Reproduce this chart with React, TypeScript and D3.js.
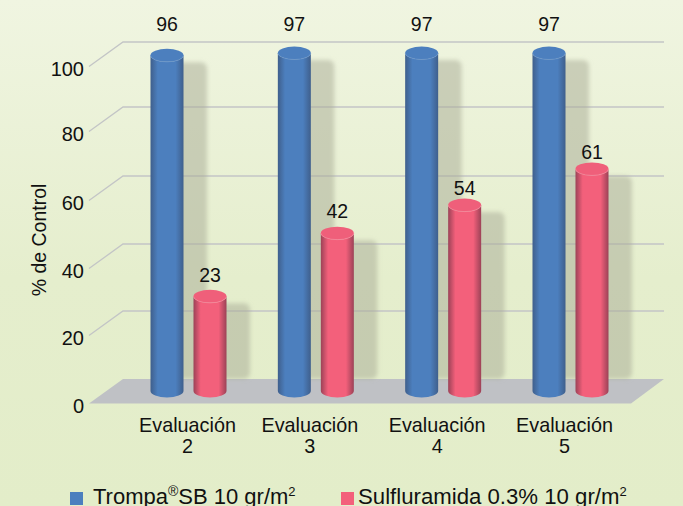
import React from "react";
import * as d3 from "d3";

const categories = ["2", "3", "4", "5"];
const labelWord = "Evaluación";
const yTicks = [0, 20, 40, 60, 80, 100];
// heights read against the axis
const trompaHeights = [99.3, 100, 100, 100];
const sulfHeights = [28, 46.7, 55, 65.7];
// printed labels
const trompaLabels = [96, 97, 97, 97];
const sulfLabels = [23, 42, 54, 61];
const labelNudge = [-1, -6, -6, -6];
const sulfLabelGap = [14, 15, 10, 10];

const W = 683, H = 506;
const font = "'Liberation Sans', Arial, sans-serif";
const yBack = d3.scaleLinear().domain(yTicks).range([379, 311, 244, 176, 107, 42]);
const yFront = (v: number) => yBack(v) + 24.5;
const yBar = d3.scaleLinear().domain([0, 100]).range([391, 53]);
const xGroup = d3.scalePoint<string>().domain(categories).range([188.5, 570.5]);
const dx = 21.5, rx = 16.5, ry = 6.5;

function cyl(cx: number, top: number, base: number) {
  return `M${cx - rx},${top}L${cx - rx},${base}A${rx},${ry} 0 0 0 ${cx + rx},${base}L${cx + rx},${top}A${rx},${ry} 0 0 1 ${cx - rx},${top}Z`;
}

function Bar({ cx, v, grad, topFill, rim }: { cx: number; v: number; grad: string; topFill: string; rim: string }) {
  const top = yBar(v), base = yBar(0);
  return (
    <g>
      <path d={cyl(cx, top, base)} fill={`url(#${grad})`} />
      <ellipse cx={cx} cy={top} rx={rx} ry={ry} fill={topFill} />
      <path d={`M${cx - rx},${top}A${rx},${ry} 0 0 0 ${cx + rx},${top}`} fill="none" stroke={rim} strokeWidth={0.7} />
    </g>
  );
}

function Shadow({ cx, v }: { cx: number; v: number }) {
  const top = yBar(v) + 7;
  return <rect x={cx + 8} y={top} width={32} height={379 - top} rx={6} fill="#a9ad97" fillOpacity={0.52} filter="url(#blur)" />;
}

function Stop3({ id, edge, mid }: { id: string; edge: string; mid: string }) {
  return (
    <linearGradient id={id} x1="0" x2="1" y1="0" y2="0">
      <stop offset="0" stopColor={edge} />
      <stop offset="0.22" stopColor={mid} />
      <stop offset="0.76" stopColor={mid} />
      <stop offset="1" stopColor={edge} />
    </linearGradient>
  );
}

export default function App() {
  const gridTicks = yTicks.filter((t) => t > 0);
  return (
    <svg width={W} height={H} viewBox={`0 0 ${W} ${H}`} style={{ position: "fixed", left: 0, top: 0, fontFamily: font }}>
      <defs>
        <linearGradient id="bg" x1="0" x2="0" y1="0" y2="1">
          <stop offset="0" stopColor="#f0f5e1" />
          <stop offset="0.55" stopColor="#e5eecd" />
          <stop offset="1" stopColor="#e3edc9" />
        </linearGradient>
        <Stop3 id="blue" edge="#3f5f8c" mid="#4c7fbe" />
        <Stop3 id="red" edge="#9c4257" mid="#f3607b" />
        <filter id="blur" x="-30%" y="-10%" width="160%" height="120%">
          <feGaussianBlur stdDeviation="2" />
        </filter>
      </defs>
      <rect width={W} height={H} fill="url(#bg)" />

      {gridTicks.map((t) => (
        <polyline key={t} points={`89,${yFront(t)} 123,${yBack(t)} 664,${yBack(t)}`} fill="none" stroke="#c3c5c6" strokeWidth={1.3} />
      ))}
      <polygon points={`89,${yFront(0)} 123,${yBack(0)} 664,${yBack(0)} 631,${yFront(0)}`} fill="#bfc1c5" />

      {categories.map((c, i) => (
        <g key={c}>
          <Shadow cx={xGroup(c)! - dx} v={trompaHeights[i]} />
          <Shadow cx={xGroup(c)! + dx} v={sulfHeights[i]} />
        </g>
      ))}
      {categories.map((c, i) => (
        <g key={c}>
          <Bar cx={xGroup(c)! - dx} v={trompaHeights[i]} grad="blue" topFill="#4c7fbe" rim="#6c95c9" />
          <Bar cx={xGroup(c)! + dx} v={sulfHeights[i]} grad="red" topFill="#ef5f7a" rim="#f58a9e" />
          <text x={xGroup(c)! - dx} y={31} textAnchor="middle" fontSize={19.5} fill="#111">{trompaLabels[i]}</text>
          <text x={xGroup(c)! + dx} y={yBar(sulfHeights[i]) - sulfLabelGap[i]} textAnchor="middle" fontSize={19.5} fill="#111">{sulfLabels[i]}</text>
          <text x={xGroup(c)! + labelNudge[i]} y={432} textAnchor="middle" fontSize={19.8} fill="#111">{labelWord}</text>
          <text x={xGroup(c)! + labelNudge[i]} y={453} textAnchor="middle" fontSize={19.8} fill="#111">{c}</text>
        </g>
      ))}

      {yTicks.map((t) => (
        <text key={t} x={84} y={yFront(t) + 9.5} textAnchor="end" fontSize={20} fill="#111">{t}</text>
      ))}
      <text transform="translate(46,240) rotate(-90)" textAnchor="middle" fontSize={19.5} fill="#111">% de Control</text>

      <rect x={70} y={492} width={13} height={13} fill="#4c7fbe" />
      <text x={93} y={504} fontSize={22} fill="#111">
        Trompa<tspan fontSize={14} dy={-8}>®</tspan><tspan dy={8}>SB 10 gr/m</tspan><tspan fontSize={13} dy={-8}>2</tspan>
      </text>
      <rect x={341} y={492} width={13} height={13} fill="#f3607b" />
      <text x={358} y={504} fontSize={22.2} fill="#111">
        Sulfluramida 0.3% 10 gr/m<tspan fontSize={13} dy={-8}>2</tspan>
      </text>
    </svg>
  );
}
